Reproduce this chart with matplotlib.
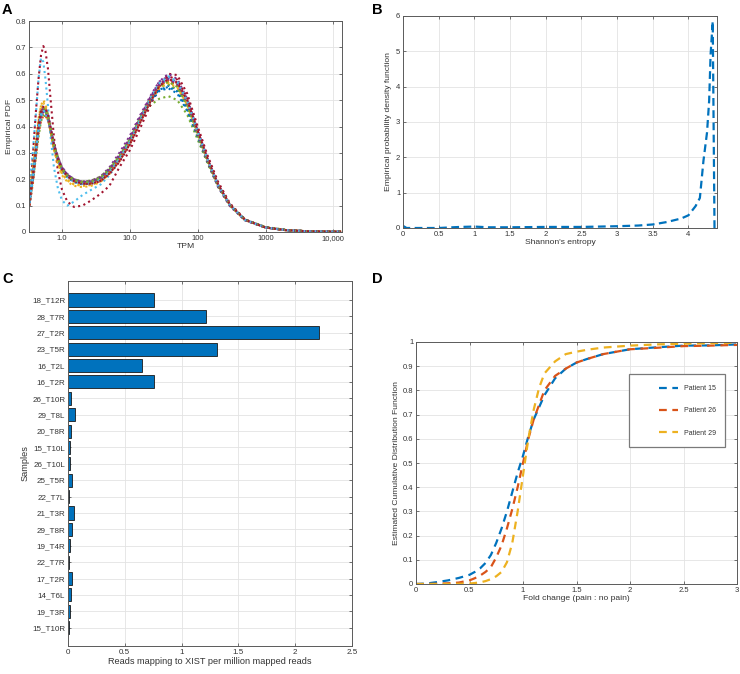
import matplotlib
matplotlib.use("Agg")
import matplotlib.pyplot as plt
from matplotlib.patches import Rectangle
import numpy as np

plt.rcParams['font.family'] = ['Liberation Sans', 'DejaVu Sans']

# ---------------- Panel A data ----------------
tpm = [0.33, 0.37, 0.41, 0.45, 0.49, 0.53, 0.57, 0.62, 0.68, 0.76,
       0.87, 1.0, 1.2, 1.5, 2.0, 2.7, 3.7, 5.0,
       7.0, 10, 14, 20, 27, 37, 50, 70, 100, 140, 200, 300, 500, 1000, 2000, 4000, 13000]

pdf_samples = [
    [0.10, 0.19, 0.30, 0.39, 0.45, 0.47, 0.46, 0.435, 0.385, 0.32,
     0.27, 0.23, 0.205, 0.19, 0.18, 0.185, 0.20, 0.23,
     0.28, 0.345, 0.42, 0.49, 0.535, 0.555, 0.54, 0.475, 0.37, 0.27, 0.175, 0.10, 0.046, 0.018, 0.007, 0.003, 0.001],
    [0.11, 0.20, 0.29, 0.38, 0.43, 0.45, 0.445, 0.425, 0.38, 0.32,
     0.27, 0.235, 0.21, 0.195, 0.185, 0.185, 0.195, 0.225,
     0.27, 0.335, 0.415, 0.495, 0.545, 0.57, 0.555, 0.485, 0.375, 0.27, 0.178, 0.102, 0.046, 0.017, 0.007, 0.003, 0.001],
    [0.13, 0.23, 0.33, 0.42, 0.48, 0.50, 0.485, 0.445, 0.38, 0.31,
     0.255, 0.215, 0.19, 0.175, 0.17, 0.175, 0.19, 0.22,
     0.27, 0.335, 0.415, 0.495, 0.55, 0.575, 0.56, 0.49, 0.38, 0.275, 0.178, 0.10, 0.045, 0.017, 0.007, 0.003, 0.001],
    [0.12, 0.20, 0.30, 0.39, 0.44, 0.46, 0.46, 0.44, 0.395, 0.335,
     0.285, 0.245, 0.22, 0.20, 0.19, 0.195, 0.21, 0.245,
     0.30, 0.365, 0.44, 0.515, 0.57, 0.59, 0.565, 0.485, 0.37, 0.265, 0.17, 0.097, 0.044, 0.017, 0.007, 0.003, 0.001],
    [0.11, 0.19, 0.28, 0.36, 0.42, 0.44, 0.44, 0.425, 0.385, 0.33,
     0.28, 0.24, 0.215, 0.20, 0.192, 0.195, 0.21, 0.24,
     0.29, 0.35, 0.42, 0.48, 0.505, 0.515, 0.50, 0.445, 0.35, 0.26, 0.172, 0.10, 0.047, 0.019, 0.008, 0.003, 0.001],
    [0.17, 0.30, 0.44, 0.58, 0.66, 0.645, 0.58, 0.48, 0.36, 0.245,
     0.165, 0.12, 0.10, 0.115, 0.14, 0.16, 0.18, 0.215,
     0.27, 0.335, 0.415, 0.50, 0.555, 0.58, 0.565, 0.495, 0.38, 0.275, 0.178, 0.10, 0.045, 0.017, 0.007, 0.003, 0.001],
    [0.10, 0.28, 0.45, 0.58, 0.67, 0.705, 0.685, 0.62, 0.50, 0.36,
     0.23, 0.16, 0.115, 0.095, 0.10, 0.12, 0.145, 0.175,
     0.245, 0.31, 0.39, 0.48, 0.55, 0.60, 0.595, 0.525, 0.40, 0.29, 0.19, 0.108, 0.048, 0.018, 0.007, 0.003, 0.001],
    [0.12, 0.21, 0.31, 0.41, 0.47, 0.48, 0.47, 0.445, 0.39, 0.325,
     0.275, 0.235, 0.21, 0.19, 0.182, 0.185, 0.20, 0.23,
     0.28, 0.345, 0.42, 0.495, 0.535, 0.545, 0.525, 0.46, 0.36, 0.265, 0.172, 0.10, 0.046, 0.018, 0.007, 0.003, 0.001],
    [0.13, 0.22, 0.32, 0.41, 0.46, 0.47, 0.46, 0.435, 0.385, 0.325,
     0.275, 0.24, 0.215, 0.195, 0.185, 0.185, 0.198, 0.228,
     0.278, 0.342, 0.42, 0.50, 0.555, 0.58, 0.562, 0.49, 0.375, 0.27, 0.175, 0.10, 0.045, 0.017, 0.007, 0.003, 0.001],
    [0.14, 0.24, 0.34, 0.43, 0.48, 0.49, 0.475, 0.44, 0.38, 0.315,
     0.26, 0.22, 0.195, 0.18, 0.175, 0.178, 0.192, 0.222,
     0.272, 0.338, 0.418, 0.497, 0.55, 0.57, 0.552, 0.485, 0.375, 0.272, 0.177, 0.101, 0.045, 0.017, 0.007, 0.003, 0.001],
    [0.11, 0.20, 0.30, 0.40, 0.455, 0.47, 0.465, 0.445, 0.395, 0.335,
     0.285, 0.245, 0.218, 0.20, 0.19, 0.192, 0.205, 0.235,
     0.285, 0.35, 0.43, 0.51, 0.57, 0.60, 0.58, 0.505, 0.385, 0.278, 0.18, 0.102, 0.045, 0.017, 0.007, 0.003, 0.001],
    [0.12, 0.21, 0.31, 0.40, 0.45, 0.46, 0.455, 0.435, 0.39, 0.33,
     0.28, 0.24, 0.215, 0.198, 0.19, 0.192, 0.207, 0.238,
     0.288, 0.352, 0.43, 0.505, 0.55, 0.56, 0.54, 0.47, 0.36, 0.265, 0.175, 0.102, 0.047, 0.018, 0.008, 0.003, 0.001],
    [0.13, 0.22, 0.31, 0.39, 0.44, 0.45, 0.445, 0.425, 0.38, 0.32,
     0.27, 0.232, 0.208, 0.19, 0.182, 0.183, 0.197, 0.227,
     0.277, 0.342, 0.422, 0.503, 0.56, 0.585, 0.565, 0.493, 0.378, 0.272, 0.176, 0.10, 0.045, 0.017, 0.007, 0.003, 0.001],
    [0.10, 0.19, 0.30, 0.40, 0.455, 0.47, 0.465, 0.44, 0.39, 0.325,
     0.275, 0.237, 0.212, 0.193, 0.183, 0.183, 0.193, 0.22,
     0.265, 0.33, 0.41, 0.492, 0.555, 0.59, 0.578, 0.51, 0.39, 0.282, 0.182, 0.104, 0.046, 0.017, 0.007, 0.003, 0.001],
    [0.11, 0.20, 0.30, 0.39, 0.445, 0.46, 0.455, 0.435, 0.385, 0.325,
     0.275, 0.238, 0.213, 0.195, 0.186, 0.188, 0.202, 0.232,
     0.282, 0.347, 0.425, 0.497, 0.54, 0.55, 0.532, 0.465, 0.362, 0.266, 0.174, 0.101, 0.046, 0.018, 0.007, 0.003, 0.001],
    [0.10, 0.18, 0.28, 0.37, 0.42, 0.44, 0.44, 0.425, 0.38, 0.32,
     0.27, 0.235, 0.21, 0.193, 0.184, 0.186, 0.199, 0.229,
     0.279, 0.344, 0.423, 0.502, 0.553, 0.575, 0.557, 0.487, 0.374, 0.27, 0.176, 0.101, 0.045, 0.017, 0.007, 0.003, 0.001],
    [0.14, 0.23, 0.33, 0.42, 0.47, 0.48, 0.47, 0.44, 0.38, 0.315,
     0.26, 0.222, 0.198, 0.182, 0.176, 0.18, 0.195, 0.226,
     0.276, 0.341, 0.42, 0.498, 0.545, 0.565, 0.548, 0.482, 0.373, 0.271, 0.176, 0.101, 0.045, 0.017, 0.007, 0.003, 0.001],
    [0.12, 0.21, 0.305, 0.39, 0.44, 0.455, 0.455, 0.435, 0.39, 0.33,
     0.282, 0.243, 0.217, 0.199, 0.19, 0.193, 0.208, 0.24,
     0.292, 0.357, 0.435, 0.51, 0.56, 0.58, 0.558, 0.484, 0.368, 0.266, 0.172, 0.099, 0.045, 0.017, 0.007, 0.003, 0.001],
    [0.12, 0.21, 0.31, 0.405, 0.46, 0.47, 0.465, 0.44, 0.39, 0.328,
     0.277, 0.238, 0.213, 0.196, 0.188, 0.19, 0.205, 0.236,
     0.286, 0.35, 0.428, 0.505, 0.553, 0.57, 0.55, 0.48, 0.368, 0.268, 0.175, 0.101, 0.046, 0.018, 0.007, 0.003, 0.001],
    [0.11, 0.20, 0.30, 0.39, 0.445, 0.46, 0.455, 0.435, 0.385, 0.323,
     0.273, 0.235, 0.21, 0.192, 0.183, 0.184, 0.197, 0.227,
     0.276, 0.342, 0.423, 0.505, 0.563, 0.59, 0.57, 0.497, 0.38, 0.274, 0.177, 0.101, 0.045, 0.017, 0.007, 0.003, 0.001],
    [0.12, 0.21, 0.31, 0.405, 0.46, 0.475, 0.47, 0.445, 0.392, 0.328,
     0.277, 0.238, 0.212, 0.193, 0.183, 0.183, 0.194, 0.222,
     0.268, 0.333, 0.412, 0.494, 0.553, 0.58, 0.567, 0.5, 0.384, 0.278, 0.18, 0.103, 0.046, 0.017, 0.007, 0.003, 0.001],
]
a_xticks = [1, 10, 100, 1000, 10000]
a_xticklabels = ['1.0', '10.0', '100', '1000', '10,000']

# ---------------- Panel B data ----------------
entropy = [0, 0.05, 0.2, 0.5, 0.8, 1.0, 1.2, 1.5, 2.0, 2.5, 3.0, 3.3, 3.5, 3.7, 3.9,
           4.0, 4.1, 4.16, 4.21, 4.26, 4.29, 4.31, 4.34, 4.365]
entropy_pdf = [0.06, 0.0, 0.0, 0.0, 0.03, 0.04, 0.02, 0.02, 0.03, 0.03, 0.05, 0.07, 0.10, 0.17, 0.27,
               0.36, 0.62, 0.85, 1.9, 2.7, 3.6, 4.9, 5.85, 0.0]

# ---------------- Panel C data ----------------
samples = ['18_T12R', '28_T7R', '27_T2R', '23_T5R', '16_T2L', '16_T2R', '26_T10R', '29_T8L',
           '20_T8R', '15_T10L', '26_T10L', '25_T5R', '22_T7L', '21_T3R', '29_T8R', '19_T4R',
           '22_T7R', '17_T2R', '14_T6L', '19_T3R', '15_T10R']
xist_rpm = [0.757, 1.218, 2.212, 1.309, 0.648, 0.754, 0.026, 0.065,
            0.026, 0.02, 0.015, 0.035, 0.008, 0.053, 0.035, 0.014,
            0.012, 0.035, 0.026, 0.02, 0.012]

# ---------------- Panel D data ----------------
fold_change = [0, 0.1, 0.2, 0.3, 0.4, 0.5, 0.55, 0.6, 0.65, 0.7, 0.75, 0.8, 0.85, 0.9, 0.95,
               1.0, 1.05, 1.1, 1.15, 1.2, 1.3, 1.4, 1.5, 1.6, 1.75, 2.0, 2.25, 2.5, 2.75, 3.0]
cdf_p15 = [0, 0.002, 0.008, 0.015, 0.025, 0.038, 0.05, 0.065, 0.087, 0.12, 0.17, 0.23, 0.30, 0.38, 0.46,
           0.53, 0.61, 0.68, 0.73, 0.78, 0.85, 0.89, 0.915, 0.93, 0.95, 0.97, 0.978, 0.985, 0.986, 0.99]
cdf_p26 = [0, 0.0, 0.001, 0.003, 0.006, 0.015, 0.024, 0.035, 0.05, 0.07, 0.11, 0.16, 0.23, 0.31, 0.40,
           0.50, 0.60, 0.68, 0.74, 0.80, 0.86, 0.89, 0.915, 0.93, 0.95, 0.97, 0.976, 0.983, 0.985, 0.988]
cdf_p29 = [0, 0.0, 0.0, 0.0, 0.001, 0.002, 0.004, 0.007, 0.012, 0.02, 0.032, 0.05, 0.09, 0.17, 0.30,
           0.45, 0.60, 0.72, 0.81, 0.87, 0.92, 0.95, 0.96, 0.968, 0.977, 0.985, 0.99, 0.993, 0.995, 0.997]
patients = ['Patient 15', 'Patient 26', 'Patient 29']

# ---------------- Styling ----------------
matlab_colors = ['#0072BD', '#D95319', '#EDB120', '#7E2F8E', '#77AC30', '#4DBEEE', '#A2142F']
GRID = '#e3e3e3'
SPINE = '#5a5a5a'
TXT = '#333333'
TICK_FS = 5.5
LABEL_FS = 6.1


def style_axes(ax):
    for s in ax.spines.values():
        s.set_color(SPINE)
        s.set_linewidth(0.7)
    ax.tick_params(direction='in', length=2.5, width=0.6, color=SPINE,
                   labelsize=TICK_FS, labelcolor=TXT, top=True, right=True, pad=2)
    ax.grid(True, color=GRID, linewidth=0.6)
    ax.set_axisbelow(True)


W, H = 740, 674
fig = plt.figure(figsize=(W / 100, H / 100), dpi=100)


def add_ax(x0, y0, x1, y1):
    return fig.add_axes([x0 / W, 1 - y1 / H, (x1 - x0) / W, (y1 - y0) / H])


# Panel A
axA = add_ax(29, 21, 342, 232)
for i, vals in enumerate(pdf_samples):
    axA.plot(tpm, vals, linestyle=':', linewidth=1.5, color=matlab_colors[i % 7])
axA.set_xscale('log')
axA.set_xlim(0.326, 13400)
axA.set_ylim(0, 0.8)
axA.set_xticks(a_xticks)
axA.set_xticklabels(a_xticklabels)
axA.xaxis.set_minor_locator(matplotlib.ticker.NullLocator())
axA.set_yticks(np.arange(0, 0.81, 0.1))
axA.set_yticklabels(['0', '0.1', '0.2', '0.3', '0.4', '0.5', '0.6', '0.7', '0.8'])
style_axes(axA)
axA.set_xlabel('TPM', fontsize=LABEL_FS, color=TXT, labelpad=1)
axA.set_ylabel('Empirical PDF', fontsize=LABEL_FS, color=TXT, labelpad=2)

# Panel B
axB = add_ax(403, 16, 717, 228)
axB.plot(entropy, entropy_pdf, color='#0072BD', linewidth=1.6, dashes=(3.5, 2.0))
axB.set_xlim(0, 4.4)
axB.set_ylim(0, 6)
axB.set_xticks(np.arange(0, 4.01, 0.5))
axB.set_xticklabels(['0', '0.5', '1', '1.5', '2', '2.5', '3', '3.5', '4'])
axB.set_yticks(range(0, 7))
style_axes(axB)
axB.set_xlabel("Shannon's entropy", fontsize=LABEL_FS, color=TXT, labelpad=1)
axB.set_ylabel('Empirical probability density function', fontsize=LABEL_FS, color=TXT, labelpad=3)

# Panel C
axC = add_ax(68, 281, 352, 646)
pos = np.arange(len(samples))
axC.barh(pos, xist_rpm, height=0.8, color='#0072BD', edgecolor='#1a1a1a', linewidth=0.6)
axC.set_yticks(pos)
axC.set_yticklabels(samples)
axC.set_ylim(len(samples) - 1 + 1.12, -1.16)
axC.set_xlim(0, 2.5)
axC.set_xticks(np.arange(0, 2.51, 0.5))
axC.set_xticklabels(['0', '0.5', '1', '1.5', '2', '2.5'])
style_axes(axC)
axC.tick_params(axis='both', labelsize=5.8)
axC.set_xlabel('Reads mapping to XIST per million mapped reads', fontsize=6.6, color=TXT, labelpad=1)
axC.set_ylabel('Samples', fontsize=6.6, color=TXT, labelpad=2)

# Panel D
axD = add_ax(416, 342, 737, 584)
for vals, name, c in zip([cdf_p15, cdf_p26, cdf_p29], patients, matlab_colors[:3]):
    axD.plot(fold_change, vals, color=c, linewidth=1.6, dashes=(3.5, 2.5), label=name)
axD.set_xlim(0, 3)
axD.set_ylim(0, 1)
axD.set_xticks(np.arange(0, 3.01, 0.5))
axD.set_xticklabels(['0', '0.5', '1', '1.5', '2', '2.5', '3'])
axD.set_yticks(np.arange(0, 1.01, 0.1))
axD.set_yticklabels(['0', '0.1', '0.2', '0.3', '0.4', '0.5', '0.6', '0.7', '0.8', '0.9', '1'])
style_axes(axD)
axD.set_xlabel('Fold change (pain : no pain)', fontsize=LABEL_FS, color=TXT, labelpad=1)
axD.set_ylabel('Estimated Cumulative Distribution Function', fontsize=LABEL_FS, color=TXT, labelpad=2)

# legend frame (MATLAB-style box with wide left margin)
dw, dh = 737 - 416, 584 - 342
frame = Rectangle(((629 - 416) / dw, 1 - (447 - 342) / dh), (725 - 629) / dw, (447 - 374) / dh,
                  transform=axD.transAxes, facecolor='white', edgecolor='#7a7a7a',
                  linewidth=0.9, zorder=4, clip_on=False)
axD.add_patch(frame)
leg = axD.legend(loc='upper left', bbox_to_anchor=((659 - 416) / dw, 1 - (385 - 342) / dh),
                 fontsize=5.0, frameon=False,
                 labelspacing=2.2, handlelength=2.8, handletextpad=0.8,
                 borderpad=0, borderaxespad=0)
leg.set_zorder(5)
for t in leg.get_texts():
    t.set_color(TXT)

# Panel letters
for letter, x, y in [('A', 2, 3), ('B', 372, 3), ('C', 2, 272), ('D', 372, 272)]:
    fig.text(x / W, 1 - y / H, letter, fontsize=10.5, fontweight='bold', va='top', ha='left')

fig.savefig('out.png', dpi=100)
